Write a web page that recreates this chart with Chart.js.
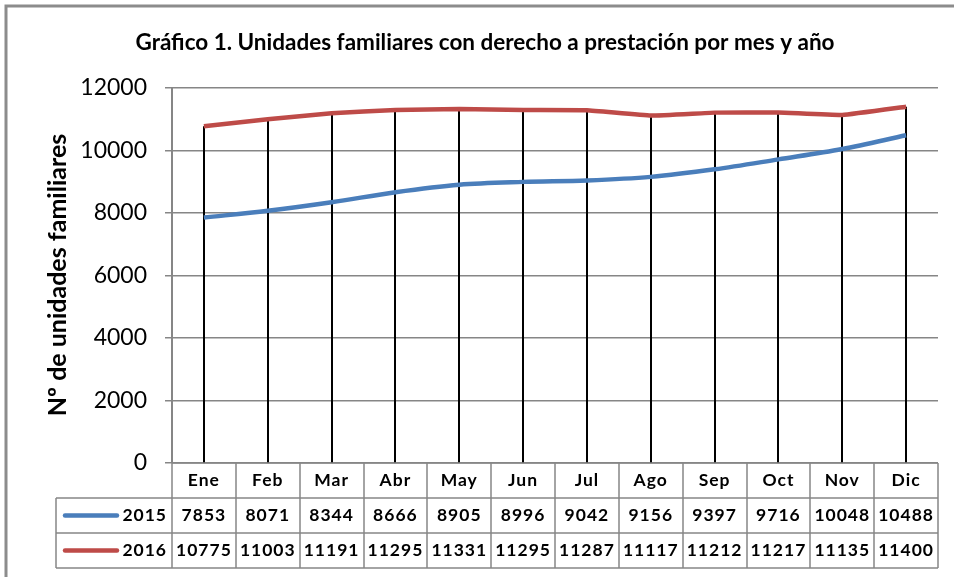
<!DOCTYPE html>
<html lang="es">
<head>
<meta charset="utf-8">
<script src="https://cdn.jsdelivr.net/npm/chart.js@4"></script>
<style>
  html, body { margin: 0; padding: 0; background: #fff; }
  #wrap { position: relative; width: 954px; height: 577px; }
</style>
</head>
<body>
<div id="wrap"><canvas id="chart" width="954" height="577"></canvas></div>
<script>
// ===== データ =====
const meses = ["Ene", "Feb", "Mar", "Abr", "May", "Jun", "Jul", "Ago", "Sep", "Oct", "Nov", "Dic"];
const serie2015 = [7853, 8071, 8344, 8666, 8905, 8996, 9042, 9156, 9397, 9716, 10048, 10488];
const serie2016 = [10775, 11003, 11191, 11295, 11331, 11295, 11287, 11117, 11212, 11217, 11135, 11400];
const yTicks = [0, 2000, 4000, 6000, 8000, 10000, 12000];

const titulo = "Gráfico 1. Unidades familiares con derecho a prestación por mes y año";
const tituloY = "Nº de unidades familiares";

const AZUL = "#4A7EBB";
const ROJO = "#BE4B48";
const GRIS = "#868686";
const FUENTE = "Lato, 'Open Sans', sans-serif";

// ── 枠・タイトル・縦線・データ表を描くプラグイン ──
const extras = {
  id: "extras",
  beforeDraw(chart) {
    const ctx = chart.ctx;
    ctx.save();
    ctx.fillStyle = "#fff";
    ctx.fillRect(0, 0, chart.width, chart.height);
    // 外枠
    ctx.strokeStyle = "#8c8c8c";
    ctx.lineWidth = 3;
    ctx.beginPath();
    ctx.moveTo(6, 580);
    ctx.lineTo(6, 6);
    ctx.lineTo(960, 6);
    ctx.stroke();
    ctx.restore();
  },
  beforeDatasetsDraw(chart) {
    // ハイロー線（各月の最大値から0まで）
    const ctx = chart.ctx, x = chart.scales.x, y = chart.scales.y;
    ctx.save();
    ctx.strokeStyle = "#000";
    ctx.lineWidth = 2;
    meses.forEach((m, i) => {
      const top = Math.max(serie2015[i], serie2016[i]);
      const px = Math.round(x.getPixelForValue(i));
      ctx.beginPath();
      ctx.moveTo(px, y.getPixelForValue(top));
      ctx.lineTo(px, y.getPixelForValue(0));
      ctx.stroke();
    });
    ctx.restore();
  },
  afterDraw(chart) {
    const ctx = chart.ctx, x = chart.scales.x, y = chart.scales.y;
    const area = chart.chartArea;
    ctx.save();

    // タイトル
    ctx.fillStyle = "#000";
    ctx.textAlign = "center";
    ctx.textBaseline = "middle";
    ctx.font = "bold 22.5px " + FUENTE;
    ctx.fillText(titulo, 485, 43);

    // 縦軸タイトル
    ctx.save();
    ctx.translate(58, 275);
    ctx.rotate(-Math.PI / 2);
    ctx.font = "bold 25px " + FUENTE;
    ctx.fillText(tituloY, 0, 0);
    ctx.restore();

    // データ表
    const y0 = y.getPixelForValue(0);
    const rows = [y0, y0 + 35, y0 + 70, y0 + 105];
    const half = (x.getPixelForValue(1) - x.getPixelForValue(0)) / 2;
    const tLeft = 56;
    const tRight = area.right;
    ctx.strokeStyle = GRIS;
    ctx.lineWidth = 1.5;
    ctx.beginPath();
    // 横線
    ctx.moveTo(area.left, rows[0]); ctx.lineTo(tRight, rows[0]);
    ctx.moveTo(tLeft, rows[1]); ctx.lineTo(tRight, rows[1]);
    ctx.moveTo(tLeft, rows[2]); ctx.lineTo(tRight, rows[2]);
    ctx.moveTo(tLeft, rows[3]); ctx.lineTo(tRight, rows[3]);
    // 縦線
    ctx.moveTo(tLeft, rows[1]); ctx.lineTo(tLeft, rows[3]);
    ctx.moveTo(area.left, rows[0]); ctx.lineTo(area.left, rows[3]);
    meses.forEach((m, i) => {
      const r = Math.round(x.getPixelForValue(i) + half);
      ctx.moveTo(r, rows[0]); ctx.lineTo(r, rows[3]);
    });
    ctx.stroke();

    ctx.font = "bold 17.5px " + FUENTE;
    ctx.letterSpacing = "1px";
    ctx.textAlign = "center";
    meses.forEach((m, i) => {
      const cx = x.getPixelForValue(i);
      ctx.fillText(m, cx, (rows[0] + rows[1]) / 2);
      ctx.fillText(String(serie2015[i]), cx, (rows[1] + rows[2]) / 2);
      ctx.fillText(String(serie2016[i]), cx, (rows[2] + rows[3]) / 2);
    });

    // 凡例
    const series = [["2015", AZUL, rows[1]], ["2016", ROJO, rows[2]]];
    series.forEach(([lbl, col, top]) => {
      const cy = top + 17.5;
      ctx.strokeStyle = col;
      ctx.lineWidth = 4.5;
      ctx.lineCap = "round";
      ctx.beginPath();
      ctx.moveTo(65, cy); ctx.lineTo(117, cy);
      ctx.stroke();
      ctx.textAlign = "right";
      ctx.fillText(lbl, 167, cy);
    });
    ctx.restore();
  }
};

new Chart(document.getElementById("chart"), {
  type: "line",
  data: {
    labels: meses,
    datasets: [
      {
        label: "2015",
        data: serie2015,
        borderColor: AZUL,
        borderWidth: 4.5,
        pointRadius: 0,
        cubicInterpolationMode: "monotone",
        fill: false
      },
      {
        label: "2016",
        data: serie2016,
        borderColor: ROJO,
        borderWidth: 4.5,
        pointRadius: 0,
        tension: 0.1,
        fill: false
      }
    ]
  },
  options: {
    responsive: false,
    animation: false,
    layout: { padding: { left: 0, top: 88, right: 16, bottom: 114 } },
    plugins: {
      legend: { display: false },
      title: { display: false },
      tooltip: { enabled: false }
    },
    scales: {
      x: {
        type: "category",
        offset: true,
        display: false
      },
      y: {
        min: 0,
        max: 12000,
        afterFit: s => { s.width = 172; },
        afterBuildTicks: s => { s.ticks = yTicks.map(v => ({ value: v })); },
        ticks: {
          color: "#000",
          padding: 18,
          font: { family: FUENTE, size: 23 },
          callback: v => String(v)
        },
        grid: {
          color: GRIS,
          lineWidth: 1.5,
          tickLength: 7
        },
        border: { color: GRIS, width: 2 }
      }
    }
  },
  plugins: [extras]
});
</script>
</body>
</html>
